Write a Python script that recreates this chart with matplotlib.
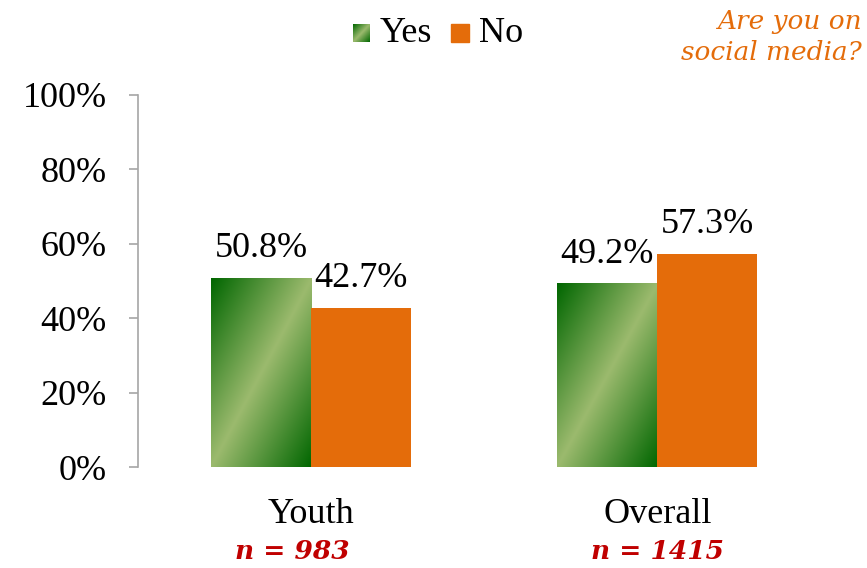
import numpy as np
import matplotlib
matplotlib.use("Agg")
import matplotlib.pyplot as plt
from matplotlib.patches import Rectangle
import matplotlib.transforms as mtransforms

plt.rcParams['font.family'] = ['Liberation Serif', 'DejaVu Serif']

categories = ["Youth", "Overall"]
yes_values = [50.8, 49.2]
no_values = [42.7, 57.3]
sample_sizes = ["n = 983", "n = 1415"]
y_ticks = [0, 20, 40, 60, 80, 100]

dark_green = np.array([0.0, 0.40, 0.0])
light_green = np.array([0.61, 0.73, 0.43])
orange = "#E46C0A"
red = "#C00000"


def diagonal_gradient(n=200):
    # light stripe along the anti-diagonal, dark in top-left / bottom-right corners
    u = np.linspace(0, 1, n)
    uu, vv = np.meshgrid(u, u)
    t = np.abs(uu + vv - 1)
    return light_green + (dark_green - light_green) * t[..., None]


grad = diagonal_gradient()

W, H = 867, 568
fig = plt.figure(figsize=(W / 100, H / 100), dpi=100)
ax = fig.add_axes([138 / W, 101 / H, (830.5 - 138) / W, 372 / H])

width = 0.289
x = np.arange(len(categories))

yes_bars = ax.bar(x - width / 2, yes_values, width, color='none', linewidth=0)
for b in yes_bars:
    ax.imshow(grad, extent=(b.get_x(), b.get_x() + b.get_width(), 0, b.get_height()),
              aspect='auto', zorder=2, interpolation='bilinear')
no_bars = ax.bar(x + width / 2, no_values, width, color=orange, linewidth=0, zorder=2)

for bars, vals in [(yes_bars, yes_values), (no_bars, no_values)]:
    for b, v in zip(bars, vals):
        ax.annotate(f"{v:.1f}%", (b.get_x() + b.get_width() / 2, v),
                    xytext=(0, 15), textcoords='offset points',
                    ha='center', va='baseline', fontsize=26)

ax.set_xlim(-0.5, 1.5)
ax.set_ylim(0, 100)
ax.set_yticks(y_ticks)
ax.set_yticklabels([f"{t}%" for t in y_ticks], fontsize=26)
ax.tick_params(axis='y', length=6.5, width=1.2, color='#A6A6A6', pad=16)
ax.set_xticks(x)
ax.set_xticklabels(categories, fontsize=26)
ax.tick_params(axis='x', length=0, pad=22)

for s in ['top', 'right', 'bottom']:
    ax.spines[s].set_visible(False)
ax.spines['left'].set_color('#A6A6A6')
ax.spines['left'].set_linewidth(1.2)

# sample size notes (the youth one sits a little left of its category)
n_shift = [-0.055, 0.0]
trans = mtransforms.blended_transform_factory(ax.transData, ax.transAxes)
for xi, n, dx in zip(x, sample_sizes, n_shift):
    ax.text(xi + dx, -0.228, n, transform=trans, ha='center', va='center',
            fontsize=19, fontweight='bold', fontstyle='italic', color=red,
            family='DejaVu Serif')

# legend
lax = fig.add_axes([353 / W, (H - 42) / H, 17 / W, 18 / H])
lax.imshow(grad, aspect='auto', interpolation='bilinear')
lax.axis('off')
fig.patches.append(Rectangle((451 / W, (H - 42) / H), 18 / W, 18 / H,
                             transform=fig.transFigure, color=orange))
fig.text(380 / W, 1 - 33 / H, "Yes", va='center', ha='left', fontsize=26)
fig.text(479 / W, 1 - 33 / H, "No", va='center', ha='left', fontsize=26)

fig.text(862 / W, 1 - 37 / H, "Are you on\nsocial media?", ha='right', va='center',
         multialignment='right', fontsize=19, fontstyle='italic', color=orange,
         family='DejaVu Serif', linespacing=1.3)

fig.savefig("out.png", dpi=100)
